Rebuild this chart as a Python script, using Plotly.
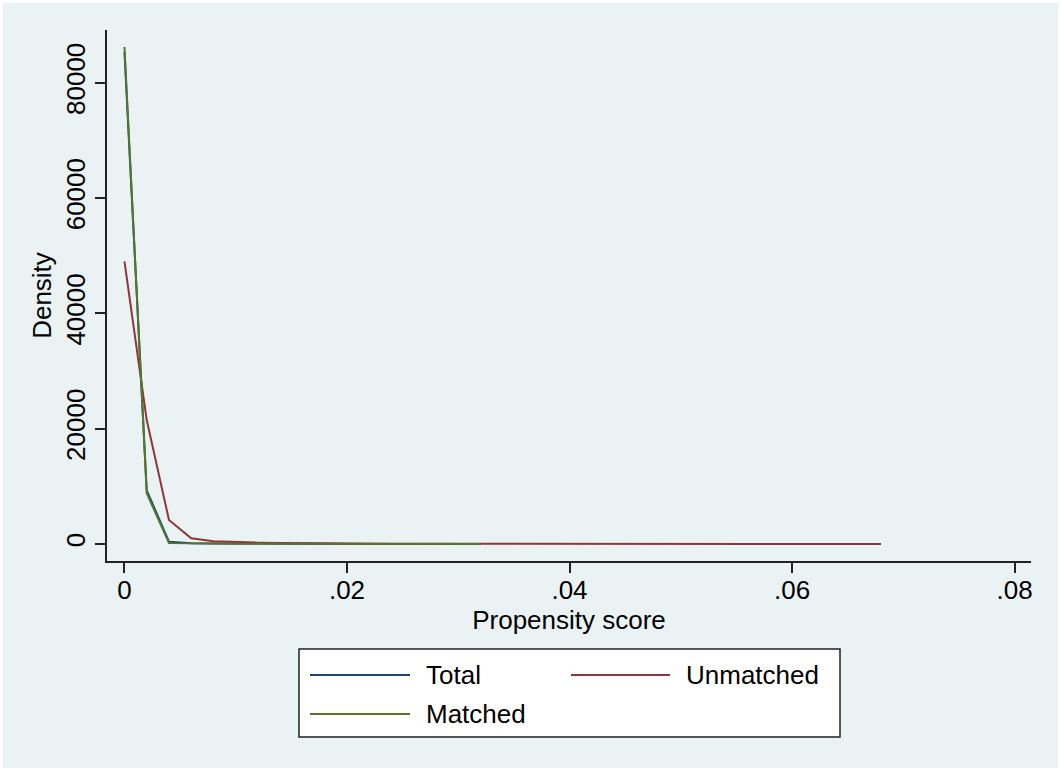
import plotly.graph_objects as go

# ---- data ----
x_total = [0.000, 0.002, 0.004, 0.006, 0.008, 0.010, 0.012, 0.014, 0.016,
           0.018, 0.020, 0.022, 0.024, 0.026, 0.028, 0.030, 0.032]
y_total = [85300, 9300, 400, 150, 90, 60, 45, 35, 28, 22, 18, 15, 12, 10, 8, 6, 5]

x_matched = x_total
y_matched = [86200, 8800, 150, 80, 50, 35, 25, 20, 16, 13, 10, 8, 6, 5, 4, 3, 2]

x_unmatched = [round(0.002 * i, 3) for i in range(35)]
y_unmatched = [49000, 21500, 4160, 990, 480, 320, 230, 170, 125, 95, 75, 62, 52,
               44, 38, 33, 29, 26, 23, 21, 19, 17, 15, 14, 13, 12, 11, 10, 9,
               8, 8, 7, 7, 6, 6]

x_ticks = [0, 0.02, 0.04, 0.06, 0.08]
x_tick_labels = ["0", ".02", ".04", ".06", ".08"]
y_ticks = [0, 20000, 40000, 60000, 80000]
y_tick_labels = ["0", "20000", "40000", "60000", "80000"]

series_names = ["Total", "Unmatched", "Matched"]
series_colors = ["#1a476f", "#90353b", "#55752f"]

BG = "#EAF2F3"
FONT = "Liberation Sans, Arial, Helvetica, sans-serif"
FS = 26

W, H = 1061, 771
L, R, T, B = 107, 30, 30, 210
PW, PH = W - L - R, H - T - B


def px(xpix):
    return (xpix - L) / PW


def py(ypix):
    return (H - B - ypix) / PH


fig = go.Figure()
fig.add_trace(go.Scatter(x=x_total, y=y_total, mode="lines", name=series_names[0],
                         line=dict(color=series_colors[0], width=2)))
fig.add_trace(go.Scatter(x=x_unmatched, y=y_unmatched, mode="lines", name=series_names[1],
                         line=dict(color=series_colors[1], width=2)))
fig.add_trace(go.Scatter(x=x_matched, y=y_matched, mode="lines", name=series_names[2],
                         line=dict(color=series_colors[2], width=2)))

shapes = [
    # outer graph region with thin white frame
    dict(type="rect", xref="paper", yref="paper", x0=px(3), x1=px(W - 3),
         y0=py(H - 3), y1=py(3), fillcolor=BG, line=dict(width=0), layer="below"),
    # legend box
    dict(type="rect", xref="paper", yref="paper", x0=px(299), x1=px(840),
         y0=py(737), y1=py(649), fillcolor="white",
         line=dict(color="#222222", width=1.5), layer="above"),
]
annotations = []
legend_items = [
    (0, 310, 410, 675, 424),
    (1, 571, 670, 675, 684),
    (2, 310, 410, 714, 424),
]
for idx, x0, x1, yy, tx in legend_items:
    shapes.append(dict(type="line", xref="paper", yref="paper", x0=px(x0), x1=px(x1),
                       y0=py(yy), y1=py(yy),
                       line=dict(color=series_colors[idx], width=2)))
    annotations.append(dict(xref="paper", yref="paper", x=px(tx), y=py(yy),
                            text=series_names[idx], showarrow=False,
                            xanchor="left", yanchor="middle",
                            font=dict(family=FONT, size=FS, color="black")))

fig.update_layout(
    width=W, height=H,
    margin=dict(l=L, r=R, t=T, b=B, pad=0),
    paper_bgcolor="white",
    plot_bgcolor="white",
    showlegend=False,
    font=dict(family=FONT, size=FS, color="black"),
    shapes=shapes,
    annotations=annotations,
)

fig.update_xaxes(
    range=[-0.00157, 0.08148],
    tickvals=x_ticks, ticktext=x_tick_labels,
    ticks="outside", ticklen=10, tickwidth=1.5, tickcolor="#222222",
    ticklabelstandoff=-5,
    showline=True, linecolor="#222222", linewidth=1.5, mirror=False,
    showgrid=False, zeroline=False,
    tickfont=dict(family=FONT, size=FS),
    title=dict(text="Propensity score", font=dict(family=FONT, size=FS), standoff=0),
)
fig.update_yaxes(
    range=[-2950, 89143],
    tickvals=y_ticks, ticktext=y_tick_labels, tickangle=-90,
    ticks="outside", ticklen=10, tickwidth=1.5, tickcolor="#222222",
    showline=True, linecolor="#222222", linewidth=1.5, mirror=False,
    showgrid=True, gridcolor=BG, gridwidth=1.5, zeroline=False,
    tickfont=dict(family=FONT, size=FS),
    title=dict(text="Density", font=dict(family=FONT, size=FS), standoff=2),
)

fig.write_html("out.html")
